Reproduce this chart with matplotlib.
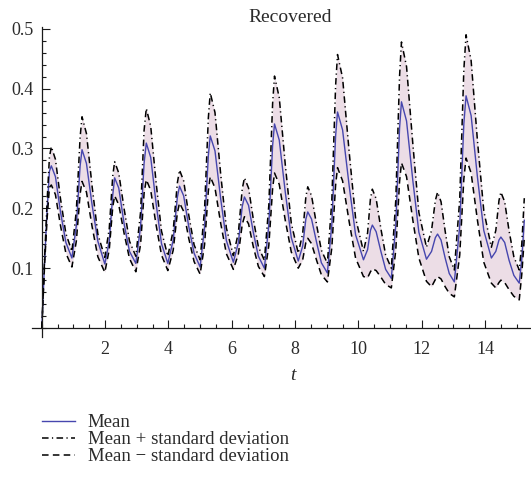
import matplotlib
matplotlib.use('Agg')
import matplotlib.pyplot as plt
from matplotlib.ticker import MultipleLocator

# ── Data ──────────────────────────────────────────────────
t = [0.00, 0.09, 0.17, 0.24, 0.30, 0.43, 0.59, 0.76, 0.95, 1.09,
     1.21, 1.27, 1.41, 1.59, 1.77, 1.99, 2.13, 2.24, 2.30, 2.43,
     2.60, 2.77, 2.97, 3.12, 3.23, 3.30, 3.44, 3.61, 3.78, 3.98,
     4.15, 4.28, 4.35, 4.48, 4.64, 4.81, 5.00, 5.14, 5.26, 5.32,
     5.47, 5.65, 5.83, 6.05, 6.21, 6.33, 6.40, 6.53, 6.68, 6.84,
     7.03, 7.17, 7.29, 7.35, 7.50, 7.69, 7.88, 8.10, 8.24, 8.34,
     8.40, 8.52, 8.68, 8.83, 9.02, 9.16, 9.28, 9.34, 9.50, 9.71,
     9.91, 10.16, 10.29, 10.38, 10.44, 10.56, 10.71, 10.86, 11.04, 11.18,
     11.30, 11.36, 11.52, 11.72, 11.91, 12.15, 12.31, 12.43, 12.50, 12.61,
     12.74, 12.87, 13.03, 13.20, 13.33, 13.40, 13.56, 13.76, 13.96, 14.20,
     14.34, 14.44, 14.50, 14.62, 14.76, 14.91, 15.08, 15.16, 15.24]

mean = [0.000, 0.114, 0.200, 0.262, 0.271, 0.253, 0.194, 0.143, 0.117, 0.171,
        0.271, 0.298, 0.275, 0.205, 0.145, 0.107, 0.145, 0.222, 0.251, 0.234,
        0.174, 0.128, 0.108, 0.170, 0.275, 0.309, 0.285, 0.208, 0.141, 0.108,
        0.147, 0.218, 0.237, 0.221, 0.170, 0.125, 0.102, 0.168, 0.288, 0.321,
        0.296, 0.216, 0.146, 0.110, 0.143, 0.203, 0.219, 0.205, 0.160, 0.120,
        0.100, 0.172, 0.305, 0.341, 0.314, 0.227, 0.151, 0.112, 0.137, 0.182,
        0.194, 0.182, 0.143, 0.109, 0.092, 0.173, 0.321, 0.361, 0.331, 0.237,
        0.156, 0.114, 0.131, 0.163, 0.172, 0.161, 0.128, 0.098, 0.083, 0.172,
        0.334, 0.378, 0.346, 0.246, 0.160, 0.115, 0.128, 0.151, 0.157, 0.147,
        0.117, 0.091, 0.077, 0.170, 0.341, 0.388, 0.355, 0.252, 0.163, 0.117,
        0.128, 0.147, 0.152, 0.143, 0.113, 0.088, 0.075, 0.115, 0.180]

upper = [0.000, 0.120, 0.215, 0.285, 0.303, 0.282, 0.216, 0.158, 0.128, 0.196,
         0.319, 0.353, 0.325, 0.236, 0.157, 0.118, 0.166, 0.254, 0.278, 0.259,
         0.199, 0.145, 0.120, 0.194, 0.330, 0.367, 0.337, 0.243, 0.162, 0.120,
         0.163, 0.242, 0.264, 0.246, 0.189, 0.139, 0.114, 0.198, 0.351, 0.393,
         0.360, 0.257, 0.167, 0.121, 0.160, 0.232, 0.251, 0.234, 0.182, 0.136,
         0.113, 0.205, 0.375, 0.421, 0.385, 0.273, 0.175, 0.125, 0.158, 0.219,
         0.236, 0.221, 0.172, 0.130, 0.108, 0.213, 0.405, 0.457, 0.418, 0.293,
         0.184, 0.128, 0.159, 0.216, 0.232, 0.216, 0.166, 0.122, 0.100, 0.213,
         0.421, 0.478, 0.437, 0.307, 0.193, 0.135, 0.163, 0.213, 0.227, 0.211,
         0.162, 0.119, 0.097, 0.215, 0.431, 0.490, 0.447, 0.313, 0.196, 0.135,
         0.163, 0.213, 0.227, 0.211, 0.162, 0.119, 0.097, 0.140, 0.217]

lower = [0.000, 0.108, 0.185, 0.235, 0.239, 0.223, 0.171, 0.125, 0.102, 0.145,
         0.224, 0.245, 0.227, 0.169, 0.119, 0.093, 0.131, 0.202, 0.221, 0.206,
         0.158, 0.116, 0.094, 0.140, 0.225, 0.248, 0.230, 0.172, 0.122, 0.096,
         0.130, 0.192, 0.209, 0.195, 0.150, 0.111, 0.090, 0.139, 0.229, 0.253,
         0.234, 0.175, 0.124, 0.098, 0.124, 0.173, 0.186, 0.174, 0.136, 0.103,
         0.086, 0.138, 0.233, 0.259, 0.240, 0.180, 0.127, 0.100, 0.114, 0.143,
         0.150, 0.141, 0.113, 0.089, 0.077, 0.134, 0.239, 0.268, 0.246, 0.177,
         0.117, 0.086, 0.084, 0.094, 0.099, 0.096, 0.085, 0.073, 0.067, 0.130,
         0.245, 0.276, 0.253, 0.180, 0.117, 0.078, 0.069, 0.081, 0.086, 0.082,
         0.069, 0.058, 0.052, 0.122, 0.249, 0.284, 0.259, 0.180, 0.110, 0.075,
         0.067, 0.076, 0.080, 0.076, 0.064, 0.053, 0.047, 0.090, 0.150]

x_major = [2, 4, 6, 8, 10, 12, 14]
y_major = [0.1, 0.2, 0.3, 0.4, 0.5]
labels  = ['Mean', 'Mean + standard deviation', 'Mean \u2212 standard deviation']

# ── Style ─────────────────────────────────────────────────
SERIF     = ['Liberation Serif', 'DejaVu Serif']
TXT_COL   = '#2b2b2b'
BLUE      = '#4646ae'
FILL      = '#ecdde6'
FS        = 13

plt.rcParams['font.family'] = SERIF

fig = plt.figure(figsize=(5.31, 4.83), dpi=100)
ax  = fig.add_axes([32/531, 1 - 337/483, 498/531, 310/483])

ax.fill_between(t, lower, upper, color=FILL, linewidth=0)
ax.plot(t, mean, color=BLUE, linewidth=1.0, label=labels[0])
ax.plot(t, upper, color='black', linewidth=1.1,
        linestyle=(0, (4.3, 2.2, 0.8, 2.2)), label=labels[1])
ax.plot(t, lower, color='black', linewidth=1.1,
        linestyle=(0, (4.3, 2.8)), label=labels[2])

ax.set_xlim(-0.31, 15.42)
ax.set_ylim(-0.015, 0.503)

for s in ['top', 'right']:
    ax.spines[s].set_visible(False)
for s in ['left', 'bottom']:
    ax.spines[s].set_position(('data', 0))
    ax.spines[s].set_linewidth(0.9)
    ax.spines[s].set_color('#1a1a1a')

ax.set_xticks(x_major)
ax.set_yticks(y_major)
ax.xaxis.set_minor_locator(MultipleLocator(0.5))
ax.yaxis.set_minor_locator(MultipleLocator(0.02))
ax.tick_params(which='both', direction='in', color='#1a1a1a', width=0.8)
ax.tick_params(which='major', length=5.5, labelsize=FS, labelcolor=TXT_COL)
ax.tick_params(which='minor', length=3)
ax.tick_params(axis='x', which='major', pad=9)
ax.tick_params(axis='y', which='major', pad=6)
ax.set_yticklabels([f'{v:.1f}' for v in y_major])

fig.text(290/531, 1 - 17/483, 'Recovered', ha='center', va='center',
         fontsize=14, color=TXT_COL)
fig.text(293/531, 1 - 375/483, 't', ha='center', va='center',
         fontsize=FS + 1, style='italic', color=TXT_COL)

fig.legend(loc='upper left', bbox_to_anchor=(42/531, 1 - 414/483),
           frameon=False, fontsize=13.5, handlelength=1.75,
           handletextpad=0.68, labelspacing=0.0, borderpad=0,
           borderaxespad=0, labelcolor=TXT_COL)

fig.savefig('out.png', dpi=100)
